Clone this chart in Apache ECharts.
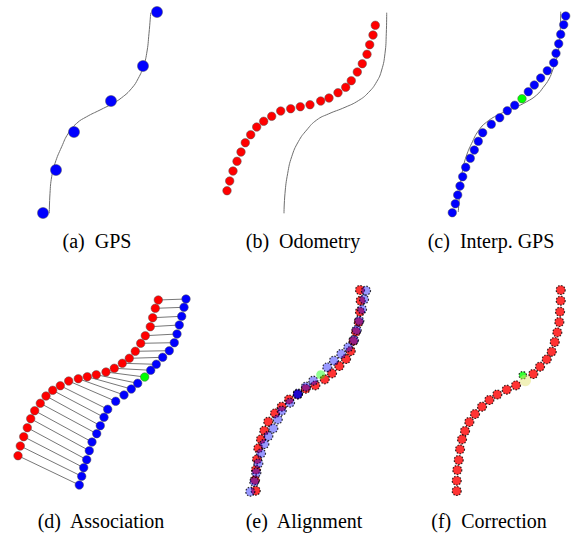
<!DOCTYPE html>
<html>
<head>
<meta charset="utf-8">
<script src="https://cdn.jsdelivr.net/npm/echarts/dist/echarts.min.js"></script>
<style>
  html, body { margin: 0; padding: 0; background: #fff; }
  #chart { width: 587px; height: 538px; }
</style>
</head>
<body>
<div id="chart"></div>
<script>
// Figure frame: x to the right, y downward, in figure units.

// (a) GPS fixes and the true trajectory
const trajA = [[150.7,12.7],[149,33.3],[146.7,53.3],[143.3,66.7],[138.3,78.3],[131.7,88.3],[121.7,97.7],[111.7,104],[100,110],[86.7,116.7],[76.7,123.3],[68.3,133.3],[61.7,146.7],[55,163.3],[51.7,176.7],[50,193.3],[49.3,213.3]];
const gpsA = [[157,12],[143,66],[111,101],[74,132],[56,170],[43,213]];

// (b) odometry samples and the true trajectory
const trajB = [[386.7,12.7],[386.3,33.3],[385,53.3],[381.7,70],[376.7,81.7],[368.3,92.7],[358.3,100.7],[345,107.3],[328.3,114],[316.7,120],[306.7,130],[298.3,141.7],[291.7,156.7],[287.7,173.3],[285,193.3],[284,213.3]];
const odomB = [[375.3,25.3],[373,35],[369.7,44.7],[367,54.3],[362.3,63.7],[357.3,72],[351.3,80.7],[345.7,87.3],[338,92.7],[329,98],[320.7,101],[310,104.7],[300.3,106.7],[290.7,108.7],[280.7,111],[271.7,116.3],[263.7,121.3],[256.7,127],[250.7,134.7],[245.3,142.7],[241,152],[237,161.3],[233,171],[229.7,181],[227,190.7]];

// (c) GPS interpolated at the odometry timestamps
const trajC = [[560.7,11.7],[560,35],[557.5,55],[552.7,70],[549,79],[543.3,87.3],[536.7,95],[526.7,101.7],[515,107.5],[500,114],[486.7,122],[478.3,131],[471.7,143.3],[466.7,155],[463.3,167],[461,180],[459.5,195],[458.3,212]];
const interpC = [[565.7,16],[563.7,24.7],[560.7,34.3],[558.7,43.7],[556,53.3],[553.7,62.7],[547.3,70.7],[540.7,78],[534.3,85],[528.3,91.7],[514.7,105.3],[507.3,110.7],[499.7,117.7],[491.3,124.3],[482.7,132.7],[478.3,141.3],[474.3,150],[470.3,158.3],[465.7,167.3],[462.7,176.7],[460,186],[457.7,195],[455.3,203.7],[452.3,212.7]];
const pivotC = [[522,98.7]];

// (d) odometry / GPS pairs (same order, pivot pair at index 10)
const odomD = [[158.3,300],[155.3,308.3],[152.7,317.7],[150.3,326.7],[145.3,335.7],[140.7,343.3],[135.3,351.3],[129.3,358.3],[122.3,363.3],[114.3,368.3],[106,372],[96.3,374.7],[87.3,376.7],[78.3,378.7],[68.7,381],[60.3,385.7],[52.7,390.3],[46,396],[40.3,403.3],[34.7,410.7],[30.7,418.7],[27.3,427.7],[23.7,436.7],[20.3,446],[18,455.7]];
const gpsD = [[186,299],[184,307.3],[181.7,316.3],[179.3,325],[177,334],[174.3,342.7],[169.3,350.7],[162.7,357.3],[156.3,364.3],[150.7,370.3],[144.7,377],[137.7,383.3],[131.3,389],[124,395],[115.7,401.3],[107.7,409.3],[104,417.3],[100.3,425.7],[96.7,433.7],[92,442],[89.3,450.7],[86.7,459.7],[83.7,467.7],[81.7,476.3],[79.3,485]];
const pivotIndexD = 10;

// (e) aligned odometry over interpolated GPS
const odomE = [[360,290],[360.7,300.7],[360,311.7],[358.7,322],[356,331.7],[353.3,341],[350.7,351],[346,359],[339.3,366],[332,373.3],[324.7,379.3],[315.3,385.3],[305.7,388.7],[297.7,394.3],[289,399.5],[281.7,406.7],[275,413.3],[268.3,421.7],[264.3,430.7],[261,439.3],[258.3,448.3],[257,459.3],[256,469.7],[255,480],[255.7,490.7]];
const gpsE = [[366,290.7],[364,299.3],[362,309.3],[359.3,320.7],[356.7,330],[354,340],[348.3,347.3],[341.3,354],[334,360.7],[327.3,367.3],[313.3,380.7],[306,386.7],[298,393.5],[290,402.7],[281.7,410.7],[277.7,419.3],[273.3,428.3],[268.3,436],[264.3,444],[261,453.3],[258.3,463.3],[256.3,472.7],[254.3,481.7],[250.3,491.7]];
const pivotE = [[320.7,374.7]];
const anchorE = [[297.7,394.3]];

// (f) corrected trajectory
const odomF = [[560.7,290],[560.7,300.7],[560,311.7],[559.3,322],[557.3,332.3],[554.7,342],[551.7,351.7],[546.7,359.3],[540,366.7],[533.3,374],[516,385.3],[506.7,389.7],[497.3,394.5],[489.3,400],[482,406.7],[475,414],[469.3,422],[465,431],[462,439.3],[460,449.3],[458.7,460],[457.3,470],[456.7,480.7],[456.7,491]];
const pivotF = [[522.7,375.3]];
const shiftF = [[525.3,380.5]];

// Sub-figure captions
const captions = ['(a)\u00a0 GPS', '(b)\u00a0 Odometry', '(c)\u00a0 Interp. GPS', '(d)\u00a0 Association', '(e)\u00a0 Alignment', '(f)\u00a0 Correction'];
const captionX = [97, 303, 491, 101, 304, 489];
const captionY = [241, 241, 241, 521, 521, 521];
const CAPTION_FONT = "'Liberation Serif', 'Times New Roman', Times, serif";

const RED = '#ff0000', BLUE = '#0000ff', GREEN = '#00ff00';

function curve(data) {
  return { type: 'line', data, smooth: 0.5, showSymbol: false, silent: true,
    lineStyle: { color: '#6e6e6e', width: 1 }, z: 1 };
}
function dots(data, color, size, extra) {
  return Object.assign({ type: 'scatter', data, symbolSize: size, silent: true,
    itemStyle: { color, borderColor: '#555', borderWidth: 0.5, opacity: 1 }, z: 3 }, extra || {});
}
function dotted(data, color, size) {
  return { type: 'scatter', data, symbolSize: size, silent: true,
    itemStyle: { color, borderColor: '#000', borderWidth: 1.2, borderType: [1.5, 1.5] }, z: 3 };
}

const pairLinks = odomD.map((p, i) => ({ coords: [p, gpsD[i]] }));

const chart = echarts.init(document.getElementById('chart'), null, { renderer: 'svg' });
chart.setOption({
  animation: false,
  backgroundColor: '#fff',
  textStyle: { fontFamily: CAPTION_FONT },
  grid: { left: 0, top: 0, right: 0, bottom: 0 },
  xAxis: { type: 'value', min: 0, max: 587, show: false },
  yAxis: { type: 'value', min: 0, max: 538, inverse: true, show: false },
  series: [
    curve(trajA),
    dots(gpsA, BLUE, 11),
    curve(trajB),
    dots(odomB, RED, 8.5),
    curve(trajC),
    dots(interpC, BLUE, 8.5),
    dots(pivotC, GREEN, 8.5),
    { type: 'lines', coordinateSystem: 'cartesian2d', data: pairLinks, silent: true,
      lineStyle: { color: '#777', width: 1, opacity: 1 }, z: 2 },
    dots(odomD, RED, 8.5),
    dots(gpsD.filter((_, i) => i !== pivotIndexD), BLUE, 8.5),
    dots([gpsD[pivotIndexD]], GREEN, 8.5),
    dotted(odomE, RED, 9),
    dotted(gpsE, 'rgba(0,0,255,0.5)', 9),
    dotted(anchorE, '#0000e0', 9),
    dots(pivotE, 'rgba(0,255,0,0.55)', 9, { itemStyle: { color: 'rgba(0,255,0,0.55)', borderWidth: 0 } }),
    dotted(odomF, RED, 9),
    dotted(pivotF, GREEN, 7.5),
    dots(shiftF, 'rgba(225,225,110,0.6)', 11.5, { itemStyle: { color: 'rgba(225,225,110,0.6)', borderWidth: 0 } })
  ],
  graphic: captions.map((t, i) => ({
    type: 'text', x: captionX[i], y: captionY[i], silent: true,
    style: { text: t, fill: '#000', font: "20px " + CAPTION_FONT, textAlign: 'center', textVerticalAlign: 'middle' }
  }))
});
</script>
</body>
</html>
